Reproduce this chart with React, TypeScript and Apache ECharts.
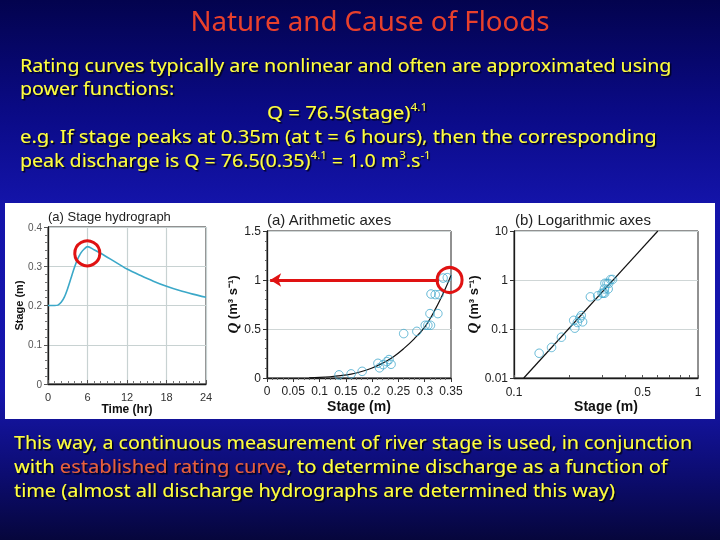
import React, { useEffect, useRef } from "react";
import * as echarts from "echarts";

// ---------- data ----------
const hydroTime = [0, 1, 1.5, 2, 2.5, 3, 3.5, 4, 4.5, 5, 5.5, 6, 7, 8, 9, 10, 11, 12, 14, 16, 18, 20, 22, 24];
const hydroStage = [0.2, 0.2, 0.201, 0.208, 0.222, 0.244, 0.27, 0.296, 0.318, 0.334, 0.344, 0.35, 0.342, 0.333, 0.323, 0.313, 0.303, 0.293, 0.277, 0.262, 0.249, 0.238, 0.229, 0.221];

const obsStage = [0.137, 0.16, 0.181, 0.211, 0.214, 0.221, 0.228, 0.232, 0.236, 0.26, 0.285, 0.301, 0.306, 0.311, 0.31, 0.325, 0.312, 0.32, 0.327, 0.335, 0.343];
const obsQ = [0.032, 0.042, 0.068, 0.15, 0.104, 0.136, 0.167, 0.188, 0.14, 0.453, 0.476, 0.538, 0.538, 0.538, 0.657, 0.657, 0.857, 0.851, 0.851, 1.02, 1.024];

const curveStage = [0.08, 0.1, 0.12, 0.14, 0.16, 0.18, 0.2, 0.22, 0.24, 0.26, 0.28, 0.3, 0.32, 0.34, 0.35];
const curveQ = [0.002, 0.006, 0.013, 0.024, 0.04, 0.066, 0.102, 0.152, 0.215, 0.3, 0.4, 0.52, 0.7, 0.92, 1.05];

const logLineStage = [0.113, 0.605];
const logLineQ = [0.01, 10];

const logXLabels = [0.1, 0.5, 1];
const logXTicks = [0.1, 0.2, 0.3, 0.4, 0.5, 0.6, 0.7, 0.8, 0.9, 1];

const peakHydro = [5.97, 0.333];
const peakRating = [0.3473, 1.0];
const arrowFrom = [0.327, 1.0];
const arrowTo = [0.006, 1.0];

const TEXT_FONT = "'Comic Sans MS', 'Noto Sans', sans-serif";
const AX_FONT = "'Liberation Sans', Arial, sans-serif";
const YELLOW = "#ffff3c";
const RED = "#e8402c";
const FS = 18;
const BASE_SX = 1.089;
const POINT = "#40a8cc";

const shadow = {
  textShadowColor: "#000018",
  textShadowOffsetX: 1.5,
  textShadowOffsetY: 1.5,
  textShadowBlur: 1,
};

function bodyLine(y: number, text: string, x = 20, sx = 1) {
  return {
    type: "text",
    x,
    y,
    z: 10,
    scaleX: sx * BASE_SX,
    style: {
      text,
      fill: YELLOW,
      fontSize: FS,
      fontFamily: TEXT_FONT,
      align: "left",
      verticalAlign: "middle",
      lineHeight: 22,
      rich: {
        sup: { fontSize: 10.5, lineHeight: 13, verticalAlign: "top", fill: YELLOW, fontFamily: TEXT_FONT },
        r: { fill: "#e8603c", fontSize: FS, fontFamily: TEXT_FONT, lineHeight: 22 },
      },
      ...shadow,
    },
  };
}

const axisLineStyle = { show: true, lineStyle: { color: "#1a1a1a", width: 1.3 } };

export default function App() {
  const ref = useRef<HTMLDivElement>(null);
  useEffect(() => {
    if (!ref.current) return;
    const chart = echarts.init(ref.current, undefined, { renderer: "svg" });
    const option: any = {
      animation: false,
      backgroundColor: "transparent",
      grid: [
        { left: 48, top: 227, width: 158, height: 157, show: true, borderColor: "#222", borderWidth: 1, backgroundColor: "transparent" },
        { left: 267, top: 231, width: 184, height: 147, show: true, borderColor: "#222", borderWidth: 1, backgroundColor: "transparent" },
        { left: 514, top: 231, width: 184, height: 147, show: true, borderColor: "#222", borderWidth: 1, backgroundColor: "transparent" },
      ],
      xAxis: [
        {
          gridIndex: 0, type: "value", min: 0, max: 24, interval: 6,
          axisLine: axisLineStyle,
          axisTick: { show: true, inside: true, length: 4, lineStyle: { color: "#555" } },
          minorTick: { show: true, splitNumber: 6, length: 3, lineStyle: { color: "#777" } },
          splitLine: { show: true, lineStyle: { color: "#c8d2d2", width: 1.2 } },
          axisLabel: { fontSize: 11, color: "#333", margin: 7, fontFamily: AX_FONT },
          name: "Time (hr)", nameLocation: "middle", nameGap: 17,
          nameTextStyle: { fontWeight: "bold", fontSize: 12, color: "#111", fontFamily: AX_FONT },
        },
        {
          gridIndex: 1, type: "value", min: 0, max: 0.35, interval: 0.05,
          axisLine: axisLineStyle,
          axisTick: { show: true, inside: false, length: 4, lineStyle: { color: "#333" } },
          minorTick: { show: true, splitNumber: 5, length: 2, lineStyle: { color: "#666" } },
          splitLine: { show: false },
          axisLabel: { fontSize: 12, color: "#222", margin: 7, fontFamily: AX_FONT },
          name: "Stage (m)", nameLocation: "middle", nameGap: 21,
          nameTextStyle: { fontWeight: "bold", fontSize: 14, color: "#111", fontFamily: AX_FONT },
        },
        {
          gridIndex: 2, type: "log", logBase: 10, min: 0.1, max: 1,
          axisLine: axisLineStyle,
          axisTick: { show: true, inside: true, length: 3, customValues: logXTicks, lineStyle: { color: "#555" } },
          splitLine: { show: false },
          axisLabel: {
            fontSize: 12, color: "#222", margin: 8, fontFamily: AX_FONT, customValues: logXLabels,
            formatter: (v: number) => String(Number(v.toPrecision(6))),
          },
          name: "Stage (m)", nameLocation: "middle", nameGap: 21,
          nameTextStyle: { fontWeight: "bold", fontSize: 14, color: "#111", fontFamily: AX_FONT },
        },
      ],
      yAxis: [
        {
          gridIndex: 0, type: "value", min: 0, max: 0.4, interval: 0.1,
          axisLine: axisLineStyle,
          axisTick: { show: true, inside: false, length: 4, lineStyle: { color: "#555" } },
          minorTick: { show: true, splitNumber: 5, length: 3, lineStyle: { color: "#777" } },
          splitLine: { show: true, lineStyle: { color: "#c8d2d2", width: 1.2 } },
          axisLabel: { fontSize: 10, color: "#555", margin: 6, fontFamily: AX_FONT },
          name: "Stage (m)", nameLocation: "middle", nameGap: 13,
          nameTextStyle: { fontWeight: "bold", fontSize: 11, color: "#111", fontFamily: AX_FONT },
        },
        {
          gridIndex: 1, type: "value", min: 0, max: 1.5, interval: 0.5,
          axisLine: axisLineStyle,
          axisTick: { show: true, inside: false, length: 4, lineStyle: { color: "#333" } },
          minorTick: { show: true, splitNumber: 5, length: 2, lineStyle: { color: "#666" } },
          splitLine: { show: true, lineStyle: { color: "#cfd6d6", width: 1.2 } },
          axisLabel: { fontSize: 12, color: "#222", margin: 6, fontFamily: AX_FONT },
          name: "{q|Q} (m³ s⁻¹)", nameLocation: "middle", nameGap: 26,
          nameTextStyle: {
            fontWeight: "bold", fontSize: 13, color: "#111", fontFamily: AX_FONT,
            rich: { q: { fontStyle: "italic", fontWeight: "bold", fontSize: 15, fontFamily: "'Liberation Serif', serif", color: "#111" } },
          },
        },
        {
          gridIndex: 2, type: "log", logBase: 10, min: 0.01, max: 10,
          axisLine: axisLineStyle,
          axisTick: { show: true, inside: false, length: 4, lineStyle: { color: "#333" } },
          splitLine: { show: true, lineStyle: { color: "#cfd6d6", width: 1.2 } },
          axisLabel: {
            fontSize: 12, color: "#222", margin: 6, fontFamily: AX_FONT,
            formatter: (v: number) => String(Number(v.toPrecision(6))),
          },
          name: "{q|Q} (m³ s⁻¹)", nameLocation: "middle", nameGap: 26,
          nameTextStyle: {
            fontWeight: "bold", fontSize: 13, color: "#111", fontFamily: AX_FONT,
            rich: { q: { fontStyle: "italic", fontWeight: "bold", fontSize: 15, fontFamily: "'Liberation Serif', serif", color: "#111" } },
          },
        },
      ],
      series: [
        {
          type: "line", xAxisIndex: 0, yAxisIndex: 0, showSymbol: false, smooth: 0.3,
          data: hydroTime.map((t, i) => [t, hydroStage[i]]),
          lineStyle: { color: "#3ba8c8", width: 1.6 },
          itemStyle: { color: "#3ba8c8" },
          markPoint: {
            silent: true, symbol: "circle", symbolSize: 25,
            itemStyle: { color: "rgba(0,0,0,0)", borderColor: "#e01212", borderWidth: 3 },
            label: { show: false },
            data: [{ coord: peakHydro }],
          },
        },
        {
          type: "line", xAxisIndex: 1, yAxisIndex: 1, showSymbol: false, smooth: 0.4,
          data: curveStage.map((s, i) => [s, curveQ[i]]),
          lineStyle: { color: "#111", width: 1.2 },
          itemStyle: { color: "#111" },
          z: 3,
          markLine: {
            silent: true, symbol: ["none", "arrow"], symbolSize: [10, 11],
            lineStyle: { color: "#e01212", width: 3, type: "solid" },
            label: { show: false },
            data: [[{ coord: arrowFrom }, { coord: arrowTo }]],
          },
          markPoint: {
            silent: true, symbol: "circle", symbolSize: 25,
            itemStyle: { color: "rgba(0,0,0,0)", borderColor: "#e01212", borderWidth: 3 },
            label: { show: false },
            data: [{ coord: peakRating }],
          },
        },
        {
          type: "scatter", xAxisIndex: 1, yAxisIndex: 1, symbol: "circle", symbolSize: 8.5,
          data: obsStage.map((s, i) => [s, obsQ[i]]),
          itemStyle: { color: "rgba(255,255,255,0)", borderColor: POINT, borderWidth: 1 },
          z: 4,
        },
        {
          type: "scatter", xAxisIndex: 2, yAxisIndex: 2, symbol: "circle", symbolSize: 8.5,
          data: obsStage.map((s, i) => [s, obsQ[i]]),
          itemStyle: { color: "rgba(255,255,255,0)", borderColor: POINT, borderWidth: 1 },
          z: 4,
        },
        {
          type: "line", xAxisIndex: 2, yAxisIndex: 2, showSymbol: false,
          data: logLineStage.map((s, i) => [s, logLineQ[i]]),
          lineStyle: { color: "#111", width: 1.2 },
          itemStyle: { color: "#111" },
          z: 3,
        },
      ],
      graphic: [
        {
          type: "rect", z: -5, silent: true,
          shape: { x: 0, y: 0, width: 720, height: 540 },
          style: {
            fill: {
              type: "linear", x: 0, y: 0, x2: 0, y2: 1,
              colorStops: [
                { offset: 0, color: "#03034e" },
                { offset: 0.2, color: "#0a0a84" },
                { offset: 0.38, color: "#1414aa" },
                { offset: 0.72, color: "#1616ae" },
                { offset: 0.88, color: "#0c0c70" },
                { offset: 1, color: "#06063c" },
              ],
            },
          },
        },
        {
          type: "rect", z: -4, silent: true,
          shape: { x: 5, y: 203, width: 710, height: 216 },
          style: { fill: "#ffffff" },
        },
        {
          type: "text", x: 48, y: 216, z: 10,
          style: { text: "(a) Stage hydrograph", fill: "#222", fontSize: 13, fontFamily: AX_FONT, align: "left", verticalAlign: "middle" },
        },
        {
          type: "text", x: 267, y: 219, z: 10,
          style: { text: "(a) Arithmetic axes", fill: "#222", fontSize: 15, fontFamily: AX_FONT, align: "left", verticalAlign: "middle" },
        },
        {
          type: "text", x: 515, y: 219, z: 10,
          style: { text: "(b) Logarithmic axes", fill: "#222", fontSize: 15, fontFamily: AX_FONT, align: "left", verticalAlign: "middle" },
        },
        {
          type: "text", x: 370, y: 20, z: 10,
          style: { text: "Nature and Cause of Floods", fill: RED, fontSize: 27.7, fontFamily: TEXT_FONT, align: "center", verticalAlign: "middle" },
        },
        bodyLine(65, "Rating curves typically are nonlinear and often are approximated using"),
        bodyLine(88, "power functions:"),
        bodyLine(112, "Q = 76.5(stage){sup|4.1}", 267, 1.04),
        bodyLine(136, "e.g. If stage peaks at 0.35m (at t = 6 hours), then the corresponding", 20, 1.03),
        bodyLine(160, "peak discharge is Q = 76.5(0.35){sup|4.1} = 1.0 m{sup|3}.s{sup|-1}"),
        bodyLine(442, "This way, a continuous measurement of river stage is used, in conjunction", 14),
        bodyLine(466, "with {r|established rating curve}, to determine discharge as a function of", 14, 1.025),
        bodyLine(490, "time (almost all discharge hydrographs are determined this way)", 14, 1.013),
      ],
    };
    chart.setOption(option);
    return () => chart.dispose();
  }, []);
  return (
    <div style={{ position: "fixed", left: 0, top: 0, width: 720, height: 540, margin: 0 }}>
      <div ref={ref} style={{ width: 720, height: 540 }} />
    </div>
  );
}
